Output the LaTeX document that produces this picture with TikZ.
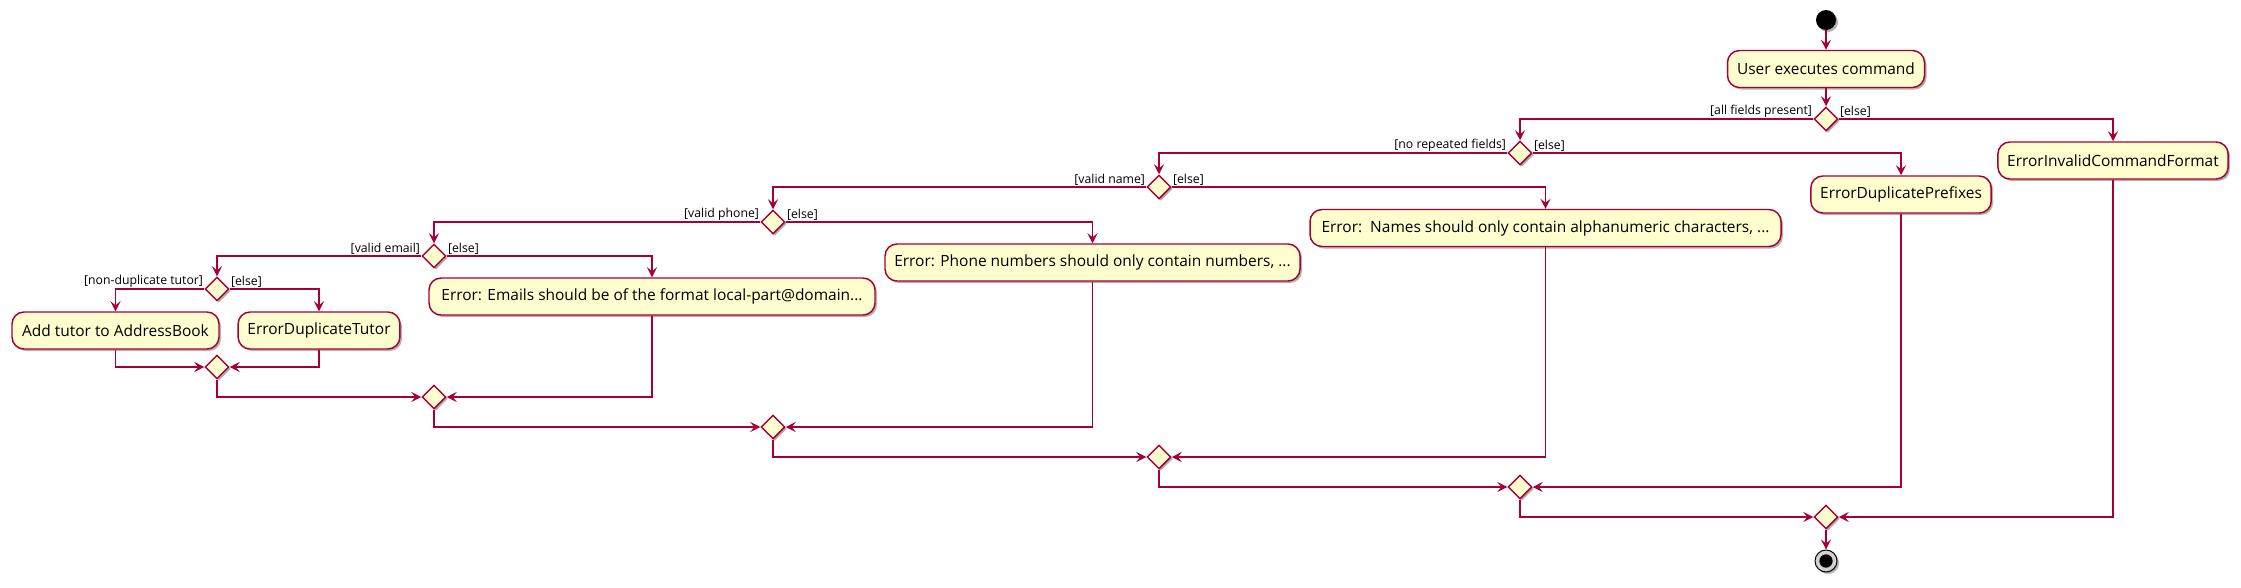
\documentclass[tikz,border=0pt]{standalone}
\usepackage{fontspec}
\setmainfont{Open Sans}
\usepackage{tikz}
\usetikzlibrary{shapes.geometric, arrows.meta, shadows}

\definecolor{umlRed}{HTML}{A80036}
\definecolor{umlFill}{HTML}{FEFECE}

\tikzset{
  umlShadow/.style={drop shadow={shadow xshift=1.5pt, shadow yshift=-1.5pt, opacity=0.3, fill=black}},
  act/.style={draw=umlRed, fill=umlFill, line width=1.1pt, rounded corners=9pt, minimum height=27.75pt, inner xsep=7pt, font=\fontsize{11.6}{13}\selectfont, umlShadow},
  branch/.style={diamond, draw=umlRed, fill=umlFill, line width=1.1pt, minimum width=18pt, minimum height=18pt, inner sep=0pt, umlShadow},
  guardL/.style={anchor=south east, inner sep=0.75pt, font=\fontsize{9.2}{11}\selectfont},
  guardR/.style={anchor=south west, inner sep=0.75pt, font=\fontsize{9.2}{11}\selectfont},
  flow/.style={draw=umlRed, line width=1.1pt, -{Stealth[length=7.5pt, width=7.5pt, inset=3pt]}},
}

\begin{document}
\begin{tikzpicture}[x=0.75pt,y=0.75pt,yscale=-1,xscale=1]
\useasboundingbox (0,0) rectangle (2241,587);

% Start and stop
\node[circle, fill=black, minimum size=15pt, inner sep=0pt, umlShadow] (start) at (1826,20) {};
\node[circle, draw=black, fill=gray!35, line width=0.75pt, minimum size=16.5pt, inner sep=0pt, umlShadow] (stop) at (1826,561) {};
\node[circle, fill=black, minimum size=10pt, inner sep=0pt] (stopDot) at (1826,561) {};

% Activities
\node[act, minimum width=147.75pt] (cmd) at (1826,69) {User executes command};
\node[act, minimum width=168pt] (invalidFormat) at (2113,160.5) {ErrorInvalidCommandFormat};
\node[act, minimum width=133.5pt] (dupPrefixes) at (1901,194.5) {ErrorDuplicatePrefixes};
\node[act, minimum width=353.25pt] (badName) at (1545.5,228) {Error:\ \ Names should only contain alphanumeric characters, ...};
\node[act, minimum width=311.25pt] (badPhone) at (1092.5,262.5) {Error: Phone numbers should only contain numbers, ...};
\node[act, minimum width=334.5pt] (badEmail) at (652,296.5) {Error: Emails should be of the format local-part@domain...};
\node[act, minimum width=155.25pt] (addTutor) at (115.5,330.5) {Add tutor to AddressBook};
\node[act, minimum width=120pt] (dupTutor) at (319,330.5) {ErrorDuplicateTutor};

% Decisions
\node[branch] (d1) at (1826,119) {};
\node[branch] (d2) at (1520,153) {};
\node[branch] (d3) at (1159,187) {};
\node[branch] (d4) at (773,222) {};
\node[branch] (d5) at (434,256) {};
\node[branch] (d6) at (217,289) {};

% Merges
\node[branch] (m1) at (1826,517) {};
\node[branch] (m2) at (1520,487) {};
\node[branch] (m3) at (1159,457) {};
\node[branch] (m4) at (773,427) {};
\node[branch] (m5) at (434,397) {};
\node[branch] (m6) at (217,367) {};

% Guards
\node[guardL] (g1y) at (d1.west) {[all fields present]};
\node[guardR] (g1n) at (d1.east) {[else]};
\node[guardL] (g2y) at (d2.west) {[no repeated fields]};
\node[guardR] (g2n) at (d2.east) {[else]};
\node[guardL] (g3y) at (d3.west) {[valid name]};
\node[guardR] (g3n) at (d3.east) {[else]};
\node[guardL] (g4y) at (d4.west) {[valid phone]};
\node[guardR] (g4n) at (d4.east) {[else]};
\node[guardL] (g5y) at (d5.west) {[valid email]};
\node[guardR] (g5n) at (d5.east) {[else]};
\node[guardL] (g6y) at (d6.west) {[non-duplicate tutor]};
\node[guardR] (g6n) at (d6.east) {[else]};

%Straight Lines
\draw[flow] (start) -- (cmd);
\draw[flow] (cmd) -- (d1);
\draw[flow] (d1.west) -| (d2.north);
\draw[flow] (d1.east) -| (invalidFormat.north);
\draw[flow] (d2.west) -| (d3.north);
\draw[flow] (d2.east) -| (dupPrefixes.north);
\draw[flow] (d3.west) -| (d4.north);
\draw[flow] (d3.east) -| (badName.north);
\draw[flow] (d4.west) -| (d5.north);
\draw[flow] (d4.east) -| (badPhone.north);
\draw[flow] (d5.west) -| (d6.north);
\draw[flow] (d5.east) -| (badEmail.north);
\draw[flow] (d6.west) -| (addTutor.north);
\draw[flow] (d6.east) -| (dupTutor.north);

%Merge Lines
\draw[flow] (addTutor.south) |- (m6.west);
\draw[flow] (dupTutor.south) |- (m6.east);
\draw[flow] (m6.south) |- (m5.west);
\draw[flow] (badEmail.south) |- (m5.east);
\draw[flow] (m5.south) |- (m4.west);
\draw[flow] (badPhone.south) |- (m4.east);
\draw[flow] (m4.south) |- (m3.west);
\draw[flow] (badName.south) |- (m3.east);
\draw[flow] (m3.south) |- (m2.west);
\draw[flow] (dupPrefixes.south) |- (m2.east);
\draw[flow] (m2.south) |- (m1.west);
\draw[flow] (invalidFormat.south) |- (m1.east);
\draw[flow] (m1) -- (stop);

\end{tikzpicture}
\end{document}
